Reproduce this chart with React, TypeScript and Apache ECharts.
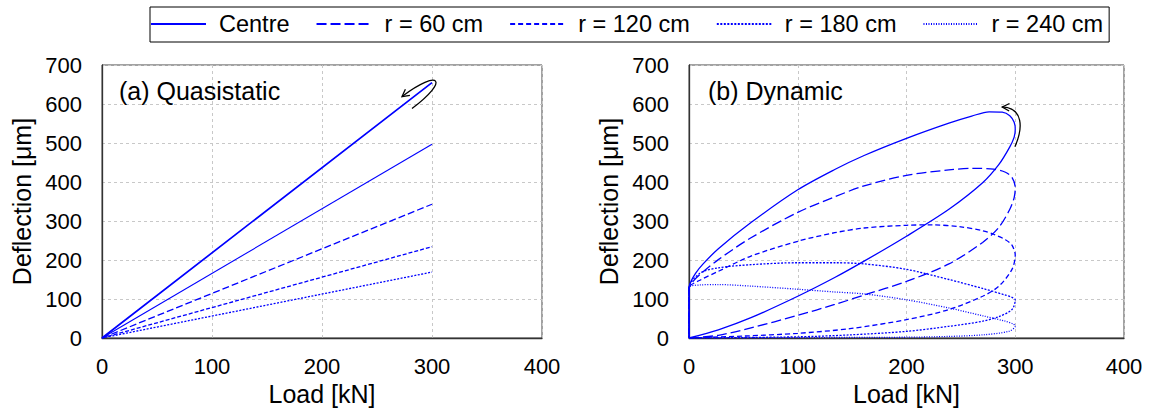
import React, { useEffect, useRef } from "react";
import * as echarts from "echarts";

const FONT = "Liberation Sans, Arial, Helvetica, sans-serif";
const BLUE = "#0000ff";

const seriesNames = ["Centre", "r = 60 cm", "r = 120 cm", "r = 180 cm", "r = 240 cm"];
const dynDash: any[] = ["solid", [10, 4], [5, 3], [2, 1.5], [1, 1.5]];
const quasiDash: any[] = ["solid", "solid", [7, 3], [4, 2], [2, 1.5]];
const panelTitles = ["(a) Quasistatic", "(b) Dynamic"];

// Quasistatic: [load kN, deflection µm]
const quasiCentre = [[0, 0], [300, 655], [0, 0]];
const quasiR60 = [[0, 0], [300, 497]];
const quasiR120 = [[0, 0], [300, 343]];
const quasiR180 = [[0, 0], [300, 234]];
const quasiR240 = [[0, 0], [300, 169]];

// Dynamic: [load kN, deflection µm]
const dynCentre = [[0, 0], [27, 21], [57, 52], [100, 107], [134, 155], [161, 197], [200, 261], [239, 330], [270, 398], [285, 445], [295, 490], [299, 515], [300, 535], [299, 553], [295, 570], [288, 579], [276, 580], [260, 569], [239, 551], [200, 512], [161, 468], [134, 432], [100, 380], [57, 296], [27, 229], [13, 190], [6, 166], [2, 146], [0, 128], [0, 0]];
const dynR60 = [[0, 0], [27, 7], [57, 26], [100, 58], [134, 86], [161, 110], [200, 145], [239, 190], [270, 245], [285, 284], [295, 330], [299, 360], [300, 386], [297, 412], [291, 425], [280, 433], [262, 435], [239, 431], [200, 417], [161, 390], [134, 362], [100, 322], [57, 257], [27, 201], [11, 165], [4, 146], [0, 128], [0, 0]];
const dynR120 = [[0, 0], [50, 5], [100, 12], [148, 24], [200, 47], [239, 73], [270, 107], [285, 133], [297, 176], [300, 212], [297, 238], [291, 252], [280, 266], [270, 275], [250, 285], [224, 290], [200, 289], [161, 282], [134, 270], [100, 248], [57, 210], [27, 171], [10, 148], [0, 128], [0, 0]];
const dynR180 = [[0, 0], [100, 3], [148, 8], [200, 17], [239, 30], [270, 43], [285, 55], [297, 73], [300, 98], [297, 104], [291, 110], [270, 127], [239, 150], [200, 176], [161, 190], [134, 193], [100, 193], [57, 188], [27, 180], [10, 166], [0, 128], [0, 0]];
const dynR240 = [[0, 0], [100, 1], [200, 2], [239, 4], [270, 8], [294, 17], [300, 30], [298, 36], [291, 43], [270, 57], [239, 77], [200, 98], [161, 113], [134, 118], [100, 125], [57, 133], [27, 137], [10, 136], [0, 128], [0, 0]];

const quasiData = [quasiCentre, quasiR60, quasiR120, quasiR180, quasiR240];
const dynData = [dynCentre, dynR60, dynR120, dynR180, dynR240];

function arrow(p0: number[], p1: number[], p2: number[], p3: number[]) {
  const dx = p3[0] - p2[0];
  const dy = p3[1] - p2[1];
  const len = Math.hypot(dx, dy) || 1;
  const ux = dx / len;
  const uy = dy / len;
  const L = 8;
  const a = (28 * Math.PI) / 180;
  const wing = (s: number) => {
    const c = Math.cos(s * a);
    const sn = Math.sin(s * a);
    const rx = -ux * c - uy * sn;
    const ry = -uy * c + ux * sn;
    return [p3[0] + rx * L, p3[1] + ry * L];
  };
  return [
    {
      type: "bezierCurve",
      shape: { x1: p0[0], y1: p0[1], cpx1: p1[0], cpy1: p1[1], cpx2: p2[0], cpy2: p2[1], x2: p3[0], y2: p3[1] },
      style: { stroke: "#000", lineWidth: 1.3, fill: null },
      z: 100,
    },
    {
      type: "polyline",
      shape: { points: [wing(1), p3, wing(-1)] },
      style: { stroke: "#000", lineWidth: 1.3, fill: null },
      z: 100,
    },
  ];
}

function axisPair(idx: number) {
  const x = {
    type: "value",
    gridIndex: idx,
    min: 0,
    max: 400,
    interval: 100,
    name: "Load [kN]",
    nameLocation: "middle",
    nameGap: 42,
    nameTextStyle: { fontSize: 25, fontFamily: FONT, color: "#000" },
    axisLine: { show: true, lineStyle: { color: "#333", width: 1.3 } },
    axisTick: { show: false },
    axisLabel: { fontSize: 22, fontFamily: FONT, color: "#000", margin: 17 },
    splitLine: { show: true, lineStyle: { color: "#c8c8c8", type: [3, 3], width: 1 } },
  };
  const y = {
    type: "value",
    gridIndex: idx,
    min: 0,
    max: 700,
    interval: 100,
    name: "Deflection [μm]",
    nameLocation: "middle",
    nameGap: 68,
    nameTextStyle: { fontSize: 25, fontFamily: FONT, color: "#000" },
    axisLine: { show: true, lineStyle: { color: "#333", width: 1.3 } },
    axisTick: { show: false },
    axisLabel: { fontSize: 22, fontFamily: FONT, color: "#000", margin: 20 },
    splitLine: { show: true, lineStyle: { color: "#c8c8c8", type: [3, 3], width: 1 } },
  };
  return { x, y };
}

export default function App() {
  const ref = useRef<HTMLDivElement>(null);
  useEffect(() => {
    if (!ref.current) return;
    const chart = echarts.init(ref.current, undefined, { renderer: "svg" });
    const a0 = axisPair(0);
    const a1 = axisPair(1);
    const series: any[] = [];
    const mk = (data: number[][], si: number, gi: number, type: any, width: number) => ({
      type: "line",
      name: seriesNames[si],
      xAxisIndex: gi,
      yAxisIndex: gi,
      data,
      showSymbol: false,
      symbol: "none",
      smooth: gi === 1 ? 0.3 : false,
      clip: true,
      lineStyle: { color: BLUE, width, type },
      itemStyle: { color: BLUE },
      emphasis: { disabled: true },
    });
    // dynamic first so that the legend takes its icons from them
    dynData.forEach((data, si) => series.push(mk(data, si, 1, dynDash[si], 1.3)));
    quasiData.forEach((data, si) => series.push(mk(data, si, 0, quasiDash[si], si === 0 ? 1.7 : si === 1 ? 1.1 : 1.3)));
    chart.setOption({
      animation: false,
      backgroundColor: "#fff",
      legend: {
        data: seriesNames,
        left: 150,
        top: 7,
        orient: "horizontal",
        itemWidth: 55,
        itemHeight: 14,
        itemGap: 26,
        padding: [5, 6, 6, 0],
        borderColor: "#000",
        borderWidth: 1,
        itemStyle: { opacity: 0, borderWidth: 0 },
        textStyle: { fontSize: 23.5, fontFamily: FONT, color: "#000", padding: [0, 0, 0, 8] },
        selectedMode: false,
      },
      grid: [
        { left: 102, top: 65, width: 440, height: 273, show: true, borderColor: "#444", borderWidth: 1, backgroundColor: "transparent" },
        { left: 689, top: 65, width: 435, height: 273, show: true, borderColor: "#444", borderWidth: 1, backgroundColor: "transparent" },
      ],
      xAxis: [a0.x, a1.x],
      yAxis: [a0.y, a1.y],
      series,
    });
    const L = chart.convertToPixel({ xAxisIndex: 0, yAxisIndex: 0 }, [300, 655]) as number[];
    const R = chart.convertToPixel({ xAxisIndex: 1, yAxisIndex: 1 }, [300, 535]) as number[];
    const off = (o: number[], dx: number, dy: number) => [o[0] + dx, o[1] + dy];
    const gL = chart.convertToPixel({ xAxisIndex: 0, yAxisIndex: 0 }, [0, 700]) as number[];
    const gR = chart.convertToPixel({ xAxisIndex: 1, yAxisIndex: 1 }, [0, 700]) as number[];
    chart.setOption({
      graphic: [
        {
          type: "text",
          x: gL[0] + 17,
          y: gL[1] + 26,
          style: { text: panelTitles[0], font: `25px ${FONT}`, fill: "#000", textAlign: "left", textVerticalAlign: "middle" },
          z: 100,
        },
        {
          type: "text",
          x: gR[0] + 19,
          y: gR[1] + 26,
          style: { text: panelTitles[1], font: `25px ${FONT}`, fill: "#000", textAlign: "left", textVerticalAlign: "middle" },
          z: 100,
        },
        ...arrow(off(L, -20, 26), off(L, 18, -2.5), off(L, 8, -14.5), off(L, -30, 14)),
        ...arrow(off(R, -0.3, 17.3), off(R, 8, -1.4), off(R, 8, -21.4), off(R, -13, -22.4)),
      ],
    });
    return () => chart.dispose();
  }, []);
  return (
    <div
      ref={ref}
      style={{ position: "fixed", left: 0, top: 0, width: 1151, height: 413, background: "#fff" }}
    />
  );
}
